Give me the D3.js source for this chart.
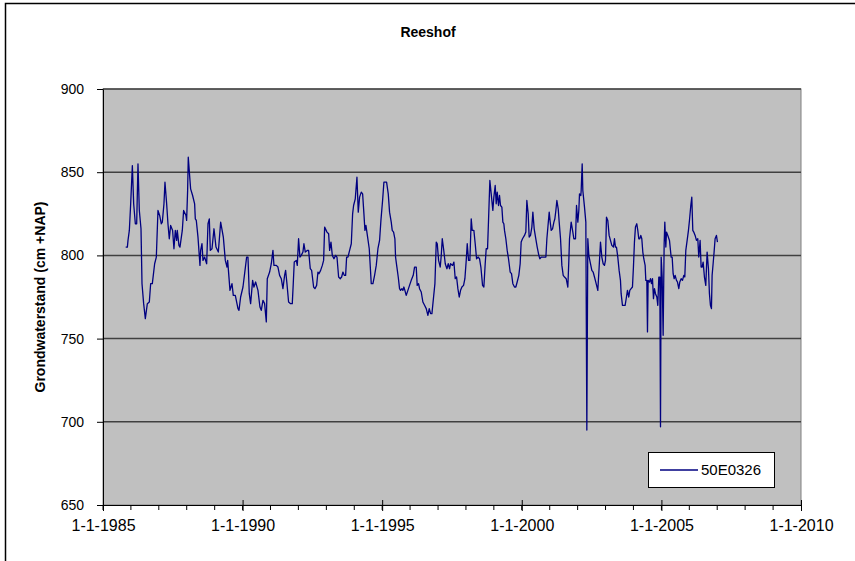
<!DOCTYPE html>
<html>
<head>
<meta charset="utf-8">
<script src="https://cdn.jsdelivr.net/npm/d3@7"></script>
<style>
  body { margin: 0; background: #fff; }
  svg { display: block; font-family: "Liberation Sans", Arial, sans-serif; }
</style>
</head>
<body>
<svg width="855" height="561"></svg>
<script>
//chart texts
var title = "Reeshof";
var yTitle = "Grondwaterstand (cm +NAP)";
var seriesName = "50E0326";

//axis ticks
var yTicks = [650, 700, 750, 800, 850, 900];
var xTickYears = [1985, 1990, 1995, 2000, 2005, 2010];

var years = [
  1985.813, 1985.873, 1985.896, 1985.944, 1985.992, 1986.052, 1986.099, 1986.159, 1986.207, 1986.254,
  1986.302, 1986.362, 1986.398, 1986.457, 1986.517, 1986.589, 1986.660, 1986.708, 1986.768, 1986.851,
  1986.911, 1986.970, 1987.030, 1987.090, 1987.126, 1987.185, 1987.221, 1987.281, 1987.328, 1987.376,
  1987.424, 1987.495, 1987.543, 1987.591, 1987.639, 1987.662, 1987.722, 1987.758, 1987.842, 1987.889,
  1987.973, 1987.997, 1988.033, 1988.056, 1988.140, 1988.211, 1988.283, 1988.307, 1988.343, 1988.403,
  1988.474, 1988.498, 1988.546, 1988.582, 1988.641, 1988.713, 1988.761, 1988.808, 1988.844, 1988.904,
  1988.975, 1989.047, 1989.131, 1989.214, 1989.310, 1989.381, 1989.441, 1989.465, 1989.548, 1989.620,
  1989.667, 1989.739, 1989.835, 1989.871, 1989.930, 1990.014, 1990.145, 1990.193, 1990.240, 1990.288,
  1990.360, 1990.407, 1990.467, 1990.551, 1990.622, 1990.670, 1990.730, 1990.789, 1990.850, 1990.885,
  1990.969, 1991.029, 1991.088, 1991.124, 1991.208, 1991.267, 1991.327, 1991.387, 1991.446, 1991.506,
  1991.542, 1991.590, 1991.649, 1991.721, 1991.781, 1991.816, 1991.852, 1991.924, 1991.960, 1992.007,
  1992.055, 1992.103, 1992.162, 1992.198, 1992.246, 1992.318, 1992.365, 1992.425, 1992.473, 1992.544,
  1992.592, 1992.652, 1992.699, 1992.735, 1992.795, 1992.855, 1992.902, 1992.938, 1993.022, 1993.081,
  1993.117, 1993.165, 1993.213, 1993.272, 1993.332, 1993.380, 1993.439, 1993.499, 1993.547, 1993.594,
  1993.642, 1993.690, 1993.726, 1993.774, 1993.833, 1993.893, 1993.941, 1993.976, 1994.036, 1994.096,
  1994.143, 1994.191, 1994.251, 1994.299, 1994.346, 1994.382, 1994.418, 1994.478, 1994.537, 1994.609,
  1994.669, 1994.728, 1994.788, 1994.848, 1994.907, 1994.955, 1995.015, 1995.062, 1995.158, 1995.218,
  1995.265, 1995.325, 1995.361, 1995.409, 1995.456, 1995.480, 1995.528, 1995.576, 1995.623, 1995.659,
  1995.707, 1995.743, 1995.778, 1995.814, 1995.862, 1995.922, 1995.981, 1996.041, 1996.113, 1996.160,
  1996.220, 1996.255, 1996.303, 1996.339, 1996.399, 1996.458, 1996.518, 1996.578, 1996.637, 1996.685,
  1996.733, 1996.781, 1996.840, 1996.888, 1996.936, 1996.972, 1997.019, 1997.079, 1997.115, 1997.151,
  1997.198, 1997.258, 1997.318, 1997.365, 1997.413, 1997.449, 1997.520, 1997.568, 1997.616, 1997.664,
  1997.711, 1997.759, 1997.807, 1997.855, 1997.914, 1997.962, 1998.010, 1998.046, 1998.093, 1998.141,
  1998.189, 1998.225, 1998.284, 1998.332, 1998.380, 1998.439, 1998.487, 1998.535, 1998.595, 1998.642,
  1998.690, 1998.726, 1998.774, 1998.809, 1998.857, 1998.905, 1998.964, 1999.000, 1999.048, 1999.084,
  1999.120, 1999.167, 1999.203, 1999.239, 1999.287, 1999.323, 1999.358, 1999.382, 1999.430, 1999.478,
  1999.525, 1999.585, 1999.633, 1999.681, 1999.740, 1999.788, 1999.836, 1999.895, 1999.943, 1999.979,
  2000.027, 2000.098, 2000.146, 2000.182, 2000.229, 2000.265, 2000.313, 2000.361, 2000.397, 2000.444,
  2000.492, 2000.552, 2000.611, 2000.647, 2000.695, 2000.755, 2000.814, 2000.862, 2000.898, 2000.934,
  2000.981, 2001.017, 2001.053, 2001.101, 2001.149, 2001.184, 2001.220, 2001.256, 2001.304, 2001.339,
  2001.387, 2001.435, 2001.483, 2001.530, 2001.590, 2001.649, 2001.685, 2001.709, 2001.769, 2001.828,
  2001.864, 2001.924, 2001.960, 2002.007, 2002.043, 2002.067, 2002.115, 2002.127, 2002.163, 2002.186,
  2002.246, 2002.294, 2002.330, 2002.365, 2002.401, 2002.449, 2002.509, 2002.556, 2002.604, 2002.664,
  2002.723, 2002.771, 2002.819, 2002.867, 2002.914, 2002.962, 2002.998, 2003.034, 2003.081, 2003.129,
  2003.177, 2003.225, 2003.284, 2003.320, 2003.356, 2003.392, 2003.439, 2003.487, 2003.535, 2003.559,
  2003.607, 2003.654, 2003.702, 2003.750, 2003.786, 2003.833, 2003.869, 2003.917, 2003.965, 2004.000,
  2004.036, 2004.072, 2004.120, 2004.156, 2004.191, 2004.227, 2004.263, 2004.299, 2004.335, 2004.370,
  2004.418, 2004.442, 2004.478, 2004.502, 2004.525, 2004.573, 2004.609, 2004.645, 2004.681, 2004.716,
  2004.752, 2004.788, 2004.836, 2004.871, 2004.907, 2004.943, 2004.967, 2004.991, 2005.027, 2005.062,
  2005.098, 2005.122, 2005.158, 2005.182, 2005.229, 2005.289, 2005.349, 2005.385, 2005.420, 2005.456,
  2005.492, 2005.540, 2005.576, 2005.623, 2005.659, 2005.707, 2005.755, 2005.802, 2005.838, 2005.874,
  2005.922, 2005.969, 2006.005, 2006.053, 2006.089, 2006.125, 2006.160, 2006.208, 2006.256, 2006.304,
  2006.339, 2006.387, 2006.423, 2006.459, 2006.495, 2006.542, 2006.590, 2006.638, 2006.686, 2006.721,
  2006.757, 2006.793, 2006.817, 2006.853, 2006.888, 2006.924, 2006.972, 2007.008
];

//groundwater level (cm +NAP)
var levels = [
  805, 805, 809, 815, 831, 854, 831, 819, 819, 855,
  827, 816, 783, 771, 762, 771, 772, 783, 783, 795,
  799, 827, 824, 819, 820, 831, 844, 831, 819, 810,
  818, 815, 804, 815, 809, 815, 806, 805, 815, 827,
  824, 821, 839, 859, 840, 836, 831, 822, 821, 811,
  794, 803, 807, 797, 799, 795, 819, 822, 803, 804,
  816, 805, 802, 820, 811, 797, 793, 797, 779, 783,
  776, 776, 768, 767, 775, 781, 799, 799, 777, 771,
  785, 781, 784, 779, 769, 767, 773, 771, 760, 786,
  790, 795, 803, 794, 794, 793, 788, 786, 780, 788,
  791, 783, 772, 771, 771, 783, 796, 797, 794, 810,
  799, 800, 802, 807, 802, 803, 803, 792, 791, 781,
  780, 782, 790, 789, 791, 794, 797, 817, 814, 813,
  803, 808, 800, 798, 800, 799, 787, 786, 787, 790,
  788, 788, 799, 799, 803, 807, 825, 830, 834, 847,
  826, 835, 838, 837, 825, 815, 818, 811, 804, 783,
  783, 788, 794, 804, 809, 821, 833, 844, 844, 837,
  826, 820, 815, 814, 810, 799, 793, 787, 780, 779,
  780, 779, 781, 779, 776, 779, 782, 785, 788, 793,
  793, 782, 783, 780, 778, 772, 770, 768, 764, 768,
  765, 765, 775, 783, 808, 807, 797, 793, 800, 810,
  804, 795, 792, 795, 792, 795, 794, 796, 786, 787,
  780, 775, 779, 781, 782, 786, 797, 807, 797, 797,
  822, 815, 815, 807, 798, 799, 798, 793, 782, 781,
  795, 804, 804, 821, 845, 837, 827, 835, 842, 831,
  838, 830, 836, 830, 829, 820, 819, 815, 810, 803,
  798, 790, 789, 783, 781, 781, 784, 788, 795, 808,
  810, 812, 814, 833, 825, 811, 812, 817, 826, 816,
  811, 805, 800, 798, 799, 799, 799, 799, 810, 817,
  826, 820, 815, 816, 820, 822, 827, 833, 828, 820,
  810, 794, 788, 787, 786, 781, 797, 810, 820, 814,
  810, 810, 830, 820, 827, 837, 836, 839, 855, 839,
  829, 820, 695, 810, 800, 796, 791, 790, 787, 783,
  779, 793, 808, 799, 795, 794, 797, 823, 821, 812,
  809, 806, 805, 810, 805, 805, 799, 791, 785, 777,
  770, 770, 770, 775, 779, 775, 779, 780, 781, 793,
  808, 817, 819, 815, 810, 810, 812, 810, 802, 798,
  794, 785, 785, 754, 785, 784, 786, 783, 786, 774,
  780, 777, 775, 770, 787, 787, 697, 799, 787, 752,
  807, 820, 805, 814, 812, 809, 799, 799, 789, 786,
  788, 785, 784, 780, 784, 786, 785, 788, 787, 803,
  809, 815, 821, 830, 835, 815, 814, 812, 809, 810,
  799, 809, 793, 793, 796, 787, 782, 802, 792, 777,
  770, 768, 788, 795, 802, 810, 812, 808
];

//convert decimal year to date
function toDate(y) {
  var yr = Math.floor(y);
  var start = new Date(yr, 0, 1), end = new Date(yr + 1, 0, 1);
  return new Date(+start + (y - yr) * (end - start));
}

var data = years.map(function (y, i) { return { date: toDate(y), value: levels[i] }; });

var svg = d3.select("svg");

//plot box
var plotLeft = 103, plotRight = 801, plotTop = 89, plotBottom = 505;

var x = d3.scaleTime()
  .domain([new Date(xTickYears[0], 0, 1), new Date(xTickYears[xTickYears.length - 1], 0, 1)])
  .range([plotLeft, plotRight]);

var y = d3.scaleLinear()
  .domain([yTicks[0], yTicks[yTicks.length - 1]])
  .range([plotBottom, plotTop]);

//outer chart border
svg.append("rect")
  .attr("x", 5.5).attr("y", 3.5)
  .attr("width", 900).attr("height", 600)
  .attr("fill", "#fff")
  .attr("stroke", "#000")
  .attr("stroke-width", 1.5);

//title
svg.append("text")
  .attr("x", 428).attr("y", 37)
  .attr("text-anchor", "middle")
  .attr("font-size", 14).attr("font-weight", "bold")
  .text(title);

//plot area
svg.append("rect")
  .attr("x", plotLeft).attr("y", plotTop)
  .attr("width", plotRight - plotLeft).attr("height", plotBottom - plotTop)
  .attr("fill", "#c0c0c0")
  .attr("stroke", "#808080");

//gridlines
svg.append("g")
  .selectAll("line")
  .data(yTicks.slice(1))
  .enter()
  .append("line")
  .attr("x1", plotLeft).attr("x2", plotRight)
  .attr("y1", function (d) { return y(d); })
  .attr("y2", function (d) { return y(d); })
  .attr("stroke", "#404040")
  .attr("stroke-width", 1.5);

//y axis
var yAxis = svg.append("g")
  .attr("transform", "translate(" + plotLeft + ",0)")
  .call(d3.axisLeft(y).tickValues(yTicks).tickSize(6).tickSizeOuter(0).tickPadding(13));
yAxis.select(".domain").attr("stroke", "#000");
yAxis.selectAll("text").attr("font-size", 14).attr("font-family", "Liberation Sans, Arial").attr("fill", "#000");

//x minor ticks
var minor = d3.timeYear.range(x.domain()[0], x.domain()[1]);
svg.append("g")
  .selectAll("line")
  .data(minor)
  .enter()
  .append("line")
  .attr("x1", function (d) { return x(d); })
  .attr("x2", function (d) { return x(d); })
  .attr("y1", plotBottom).attr("y2", plotBottom + 5)
  .attr("stroke", "#000");

//x axis, major ticks cross the axis
var fmt = d3.timeFormat("%-d-%-m-%Y");
var xAxis = svg.append("g")
  .attr("transform", "translate(0," + plotBottom + ")")
  .call(d3.axisBottom(x)
    .tickValues(xTickYears.map(function (d) { return new Date(d, 0, 1); }))
    .tickFormat(fmt)
    .tickSize(6)
    .tickSizeOuter(0)
    .tickPadding(9));
xAxis.select(".domain").attr("stroke", "#000");
xAxis.selectAll(".tick line").attr("y1", -5).attr("stroke", "#000");
xAxis.selectAll("text").attr("font-size", 16).attr("font-family", "Liberation Sans, Arial").attr("fill", "#000");

//y axis title
svg.append("text")
  .attr("transform", "translate(45," + ((plotTop + plotBottom) / 2) + ") rotate(-90)")
  .attr("text-anchor", "middle")
  .attr("font-size", 14).attr("font-weight", "bold")
  .text(yTitle);

//series line
var line = d3.line()
  .x(function (d) { return x(d.date); })
  .y(function (d) { return y(d.value); });

svg.append("path")
  .datum(data)
  .attr("d", line)
  .attr("fill", "none")
  .attr("stroke", "#000080")
  .attr("stroke-width", 1.3)
  .attr("stroke-linejoin", "round");

//legend
var legend = svg.append("g").attr("transform", "translate(648,452)");
legend.append("rect")
  .attr("x", 0.5).attr("y", 0.5)
  .attr("width", 126).attr("height", 35)
  .attr("fill", "#fff").attr("stroke", "#000");
legend.append("line")
  .attr("x1", 12).attr("x2", 50)
  .attr("y1", 18).attr("y2", 18)
  .attr("stroke", "#000080").attr("stroke-width", 1.3);
legend.append("text")
  .attr("x", 53).attr("y", 23)
  .attr("font-size", 15)
  .text(seriesName);
</script>
</body>
</html>
